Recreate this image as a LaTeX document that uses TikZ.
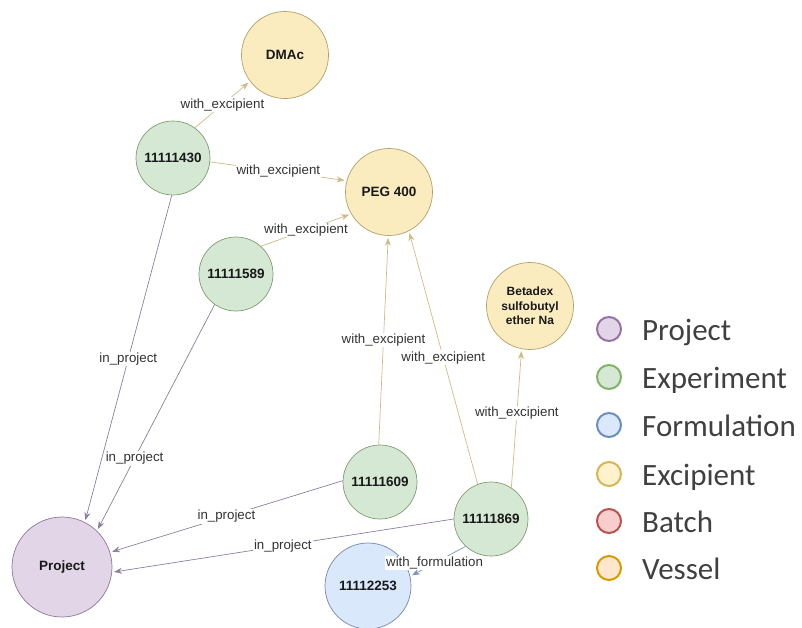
\documentclass[tikz,border=0pt]{standalone}
\usepackage{fontspec}
\setmainfont{Liberation Sans}
\newfontfamily\legendfont{Carlito}
\usetikzlibrary{arrows.meta}

\definecolor{prjfill}{HTML}{E1D5E7}
\definecolor{prjline}{HTML}{9673A6}
\definecolor{expfill}{HTML}{D5E8D4}
\definecolor{expline}{HTML}{82B366}
\definecolor{frmfill}{HTML}{DAE8FC}
\definecolor{frmline}{HTML}{6C8EBF}
\definecolor{excfill}{HTML}{FFF2CC}
\definecolor{excline}{HTML}{D6B656}
\definecolor{batfill}{HTML}{F8CECC}
\definecolor{batline}{HTML}{B85450}
\definecolor{vesfill}{HTML}{FFE6CC}
\definecolor{vesline}{HTML}{D79B00}
\definecolor{legtext}{HTML}{404040}
\definecolor{relexc}{HTML}{CDBB88}
\definecolor{relprj}{HTML}{8E7EA2}
\definecolor{relfrm}{HTML}{7D93B8}

\tikzset{
	graphnode/.style={circle, line width=0.7pt, inner sep=0pt, text=black!90,
		font=\fontsize{13.5}{15}\selectfont\bfseries},
	prjnode/.style={graphnode, fill=prjfill, draw=prjline!60!gray, minimum size=100pt},
	expnode/.style={graphnode, fill=expfill, draw=expline!60!gray, minimum size=74pt},
	frmnode/.style={graphnode, fill=frmfill, draw=frmline!60!gray, minimum size=86pt},
	excnode/.style={graphnode, fill=excfill!90!excline, draw=excline!60!gray, minimum size=87pt},
	rel/.style={-{Stealth[length=8pt,width=6pt]}, line width=0.7pt, shorten >=2pt},
	excrel/.style={rel, draw=relexc},
	prjrel/.style={rel, draw=relprj},
	frmrel/.style={rel, draw=relfrm},
	lbl/.style={fill=white, inner sep=1pt, text=black!80,
		font=\fontsize{13.3}{15}\selectfont},
	legdot/.style={circle, line width=2pt, minimum size=24pt, inner sep=0pt},
	legname/.style={anchor=base west, inner sep=0pt, text=legtext,
		font=\legendfont\fontsize{31}{36}\selectfont}
}

\begin{document}
\begin{tikzpicture}[x=1pt,y=-1pt]
	\useasboundingbox (0,0) rectangle (802,627);

	% graph nodes
	\node[prjnode] (prj) at (62,567) {Project};
	\node[expnode] (e430) at (173,158) {11111430};
	\node[expnode] (e589) at (236,274) {11111589};
	\node[expnode] (e609) at (380,482) {11111609};
	\node[expnode] (e869) at (491,519) {11111869};
	\node[frmnode] (f2253) at (368,586) {11112253};
	\node[excnode] (dmac) at (285,55) {DMAc};
	\node[excnode] (peg) at (389,192) {PEG 400};
	\node[excnode, align=center, font=\fontsize{12}{14.5}\selectfont\bfseries] (beta) at (530,306) {Betadex\\sulfobutyl\\ether Na};

	% relations
	\draw[excrel] (e430.54) -- node[lbl] {with\_excipient} (dmac.217);
	\draw[excrel] (e430.-6) -- node[lbl] {with\_excipient} (peg.165);
	\draw[excrel] (e589.48) -- node[lbl] {with\_excipient} (peg.210);
	\draw[excrel] (e609.92) -- node[lbl] {with\_excipient} (peg.-91);
	\draw[excrel] (e869.111) -- node[lbl] {with\_excipient} (peg.-63);
	\draw[excrel] (e869.57) -- node[lbl, pos=0.54] {with\_excipient} (beta.-101);

	\draw[prjrel] (e430.-92) -- node[lbl] {in\_project} (prj.63);
	\draw[prjrel] (e589.-125) -- node[lbl, pos=0.68] {in\_project} (prj.46);
	\draw[prjrel] (e609.178) -- node[lbl] {in\_project} (prj.17);
	\draw[prjrel] (e869.180) -- node[lbl] {in\_project} (prj.-6);

	\draw[frmrel] (e869.-133) -- node[lbl, pos=0.56] {with\_formulation} (f2253.13);

	% legend
	\node[legdot, draw=prjline, fill=prjfill] (lgprj) at (609,329) {};
	\node[legname] (lgprjtxt) at (642,340) {Project};
	\node[legdot, draw=expline, fill=expfill] (lgexp) at (609,377) {};
	\node[legname] (lgexptxt) at (642,388) {Experiment};
	\node[legdot, draw=frmline, fill=frmfill] (lgfrm) at (609,425) {};
	\node[legname] (lgfrmtxt) at (642,436) {Formulation};
	\node[legdot, draw=excline, fill=excfill] (lgexc) at (609,474) {};
	\node[legname] (lgexctxt) at (642,485) {Excipient};
	\node[legdot, draw=batline, fill=batfill] (lgbat) at (609,521) {};
	\node[legname] (lgbattxt) at (642,532) {Batch};
	\node[legdot, draw=vesline, fill=vesfill] (lgves) at (609,568) {};
	\node[legname] (lgvestxt) at (642,579) {Vessel};
\end{tikzpicture}
\end{document}
